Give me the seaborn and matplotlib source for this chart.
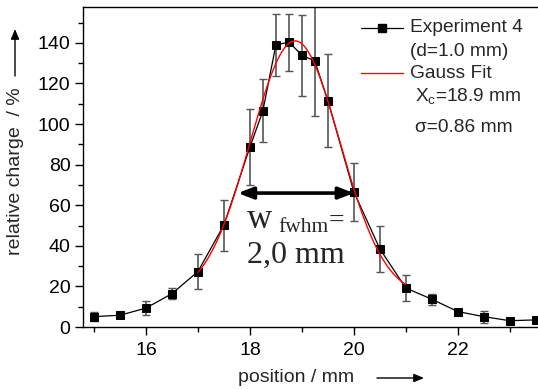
import numpy as np
import pandas as pd
import matplotlib
matplotlib.use("Agg")
import matplotlib.pyplot as plt
import matplotlib.patches as mpatches
import seaborn as sns
from matplotlib.lines import Line2D
from matplotlib.ticker import MultipleLocator

# ---- data ----
position = [15.0, 15.5, 16.0, 16.5, 17.0, 17.5, 18.0, 18.25, 18.5, 18.75,
            19.0, 19.25, 19.5, 20.0, 20.5, 21.0, 21.5, 22.0, 22.5, 23.0, 23.5]
charge = [5.1, 5.8, 9.3, 16.4, 27.3, 50.2, 88.6, 106.5, 139.0, 140.4,
          134.0, 131.0, 111.6, 66.6, 38.5, 19.2, 13.7, 7.6, 5.1, 3.1, 3.5]
charge_err = [2.1, 1.0, 3.4, 2.7, 8.8, 12.6, 18.7, 15.5, 15.4, 14.0,
              20.0, 27.0, 23.0, 14.3, 11.2, 6.2, 2.7, 1.0, 3.0, 0.8, 0.8]

fit_xc = 18.87
fit_sigma = 0.86
fit_amp = 126.0
fit_y0 = 15.0
fit_range = [17.0, 21.0]

fwhm_ends = [17.77, 20.0]
fwhm_level = 66.0

xticks = [16, 18, 20, 22]
yticks = [0, 20, 40, 60, 80, 100, 120, 140]

# ---- style ----
sns.set_style("ticks")
plt.rcParams['font.family'] = ['Liberation Sans', 'DejaVu Sans']
plt.rcParams['mathtext.fontset'] = 'custom'
plt.rcParams['mathtext.rm'] = 'Liberation Sans'

W, H = 538, 389
fig = plt.figure(figsize=(W / 100, H / 100), dpi=100)
left, right, top, bottom = 83, 541, 7, 327
ax = fig.add_axes([left / W, 1 - bottom / H, (right - left) / W, (bottom - top) / H])

df = pd.DataFrame({"position": position, "charge": charge, "err": charge_err})

ax.errorbar(df["position"], df["charge"], yerr=df["err"], fmt="none",
            ecolor="#555555", elinewidth=1.2, capsize=3.2, capthick=1.0, zorder=2)
sns.lineplot(data=df, x="position", y="charge", ax=ax, color="black", lw=0.9,
             marker="s", markersize=6, markeredgecolor="black", zorder=3)

xf = np.linspace(fit_range[0], fit_range[1], 300)
fit_df = pd.DataFrame({"x": xf,
                       "y": fit_y0 + fit_amp * np.exp(-(xf - fit_xc) ** 2 / (2 * fit_sigma ** 2))})
sns.lineplot(data=fit_df, x="x", y="y", ax=ax, color="red", lw=1.0, zorder=4)

ax.set_xlim(14.79, 23.6)
ax.set_ylim(0, 157.7)
ax.set_xticks(xticks)
ax.set_yticks(yticks)
ax.xaxis.set_minor_locator(MultipleLocator(1))
ax.yaxis.set_minor_locator(MultipleLocator(10))
ax.tick_params(which="major", direction="out", length=6, width=1, labelsize=14,
               colors="black", pad=3)
ax.tick_params(axis="x", which="major", pad=5)
ax.tick_params(which="minor", direction="out", length=3.5, width=1, colors="black")
for s in ax.spines.values():
    s.set_linewidth(1.0)
    s.set_color("black")
ax.set_xlabel("")
ax.set_ylabel("")

# FWHM arrow
ax.annotate("", xy=(fwhm_ends[0], fwhm_level), xytext=(fwhm_ends[1], fwhm_level),
            arrowprops=dict(arrowstyle="<|-|>,head_length=0.9,head_width=0.35",
                            color="black", lw=2.6, shrinkA=0, shrinkB=0), zorder=5)


def fx(px):
    return px / W


def fy(py):
    return 1 - py / H


# w_fwhm text
fig.text(fx(247), fy(228), "w", family="Liberation Serif", fontsize=25,
         va="baseline", ha="left")
fig.text(fx(278), fy(232), "fwhm", family="Liberation Serif", fontsize=15.5,
         va="baseline", ha="left")
fig.text(fx(329), fy(228), "=", family="Liberation Serif", fontsize=20,
         va="baseline", ha="left")
fig.text(fx(247), fy(255), "2,0 mm", family="Liberation Serif", fontsize=23,
         va="center", ha="left")

# legend (manual)
fig.add_artist(Line2D([fx(361), fx(403)], [fy(28), fy(28)], color="black", lw=0.9,
                      transform=fig.transFigure))
fig.add_artist(Line2D([fx(382)], [fy(28)], color="black", marker="s", markersize=6,
                      lw=0, transform=fig.transFigure))
fig.add_artist(Line2D([fx(361), fx(403)], [fy(73), fy(73)], color="red", lw=1.0,
                      transform=fig.transFigure))
legend_fs = 13.8
fig.text(fx(410), fy(28), "Experiment 4", fontsize=legend_fs, va="center", ha="left")
fig.text(fx(410), fy(52), "(d=1.0 mm)", fontsize=legend_fs, va="center", ha="left")
fig.text(fx(410), fy(73), "Gauss Fit", fontsize=legend_fs, va="center", ha="left")
fig.text(fx(415), fy(97), r"X$_\mathregular{c}$=18.9 mm", fontsize=legend_fs,
         va="center", ha="left")
fig.text(fx(415), fy(127), "\u03c3=0.86 mm", fontsize=legend_fs, va="center",
         ha="left")

# axis labels with arrows
fig.text(fx(16), fy(171), "relative charge  / %", rotation=90, fontsize=14,
         va="center", ha="center")
fig.add_artist(mpatches.FancyArrowPatch(
    (fx(15), fy(76)), (fx(15), fy(29)), transform=fig.transFigure,
    arrowstyle="-|>,head_length=6,head_width=2.5", color="black", lw=1.0,
    shrinkA=0, shrinkB=0))
fig.text(fx(296), fy(378), "position / mm", fontsize=14, va="center", ha="center")
fig.add_artist(mpatches.FancyArrowPatch(
    (fx(377), fy(378)), (fx(424), fy(378)), transform=fig.transFigure,
    arrowstyle="-|>,head_length=6,head_width=2.5", color="black", lw=1.0,
    shrinkA=0, shrinkB=0))

fig.savefig("out.png", dpi=100)
